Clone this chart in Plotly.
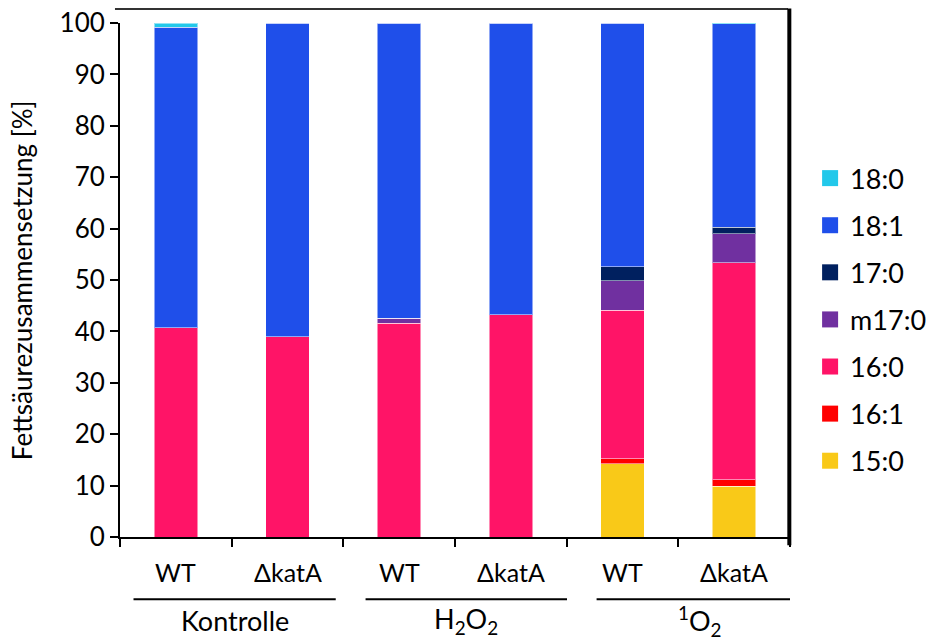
import plotly.graph_objects as go

# ---- data ----
bar_labels = ["WT", "ΔkatA", "WT", "ΔkatA", "WT", "ΔkatA"]
group_labels = ["Kontrolle", "H<sub>2</sub>O<sub>2</sub>", "<sup>1</sup>O<sub>2</sub>"]
series_names = ["15:0", "16:1", "16:0", "m17:0", "17:0", "18:1", "18:0"]
s_15_0 = [0.0, 0.0, 0.0, 0.0, 14.3, 9.9]
s_16_1 = [0.0, 0.0, 0.0, 0.0, 0.9, 1.2]
s_16_0 = [40.7, 39.0, 41.6, 43.2, 28.9, 42.3]
s_m17_0 = [0.0, 0.0, 1.0, 0.0, 5.8, 5.6]
s_17_0 = [0.0, 0.0, 0.0, 0.0, 2.7, 1.3]
s_18_1 = [58.5, 61.0, 57.4, 56.8, 47.4, 39.6]
s_18_0 = [0.8, 0.0, 0.0, 0.0, 0.0, 0.4]
series_values = [s_15_0, s_16_1, s_16_0, s_m17_0, s_17_0, s_18_1, s_18_0]
series_colors = ["#F9C918", "#FF0000", "#FF1467", "#7030A0", "#00205F", "#1F4FEA", "#22C8EA"]
y_ticks = [0, 10, 20, 30, 40, 50, 60, 70, 80, 90, 100]

FONT = "Lato"
xpos = list(range(len(bar_labels)))

fig = go.Figure()
for name, vals, col in zip(series_names, series_values, series_colors):
    fig.add_trace(go.Bar(
        x=xpos, y=vals, name=name, width=0.39,
        marker=dict(color=col, line=dict(color="rgba(255,255,255,0.5)", width=1)),
        showlegend=False,
    ))
# legend entries (square markers), top to bottom: last stacked series first
for name, col in zip(series_names[::-1], series_colors[::-1]):
    fig.add_trace(go.Scatter(
        x=[None], y=[None], mode="markers", name=name, legendgroup=name,
        marker=dict(symbol="square", size=16, color=col),
    ))

fig.update_layout(
    barmode="stack",
    width=927, height=640,
    margin=dict(l=120, r=137, t=23, b=103, autoexpand=False),
    plot_bgcolor="white", paper_bgcolor="white",
    font=dict(family=FONT, size=26, color="black"),
    legend=dict(
        traceorder="grouped", tracegroupgap=9,
        x=1.030, xanchor="left", y=0.745, yanchor="top",
        font=dict(size=27), bgcolor="rgba(0,0,0,0)",
    ),
)
fig.update_xaxes(
    range=[-0.5, 5.5],
    tickvals=[i - 0.5 for i in range(len(bar_labels) + 1)],
    ticktext=["" for _ in range(len(bar_labels) + 1)],
    ticks="outside", ticklen=8, tickwidth=2, tickcolor="black",
    showline=True, linecolor="black", linewidth=2,
    showgrid=False, zeroline=False,
)
fig.update_yaxes(
    range=[0, 100], tickvals=y_ticks,
    ticks="outside", ticklen=8, tickwidth=2, tickcolor="black",
    showline=True, linecolor="black", linewidth=2,
    showgrid=False, zeroline=False,
    tickfont=dict(size=26),
)
# y-axis title
fig.add_annotation(x=-0.146, y=0.5, xref="paper", yref="paper",
                   text="Fettsäurezusammensetzung [%]", textangle=-90,
                   showarrow=False, font=dict(size=26), xanchor="center", yanchor="middle")

# bar labels
for i, lab in enumerate(bar_labels):
    fig.add_annotation(x=i, y=-0.068, xref="x", yref="paper", text=lab,
                       showarrow=False, font=dict(size=25), yanchor="middle")
# group lines and labels
group_spans = [(-0.379, 1.432), (1.699, 3.503), (3.768, 5.616)]
for (x0, x1), g in zip(group_spans, group_labels):
    fig.add_shape(type="line", xref="x", yref="paper", x0=x0, x1=x1, y0=-0.121, y1=-0.121,
                  line=dict(color="black", width=2))
    fig.add_annotation(x=(x0 + x1) / 2, y=-0.163, xref="x", yref="paper", text=g,
                       showarrow=False, font=dict(size=27), yanchor="middle")
# frame: top line and right border
fig.add_shape(type="line", xref="paper", yref="paper", x0=-0.0075, x1=0.997, y0=1.027, y1=1.027,
              line=dict(color="#333333", width=2))
fig.add_shape(type="line", xref="paper", yref="paper", x0=0.999, x1=0.999, y0=1.028, y1=-0.016,
              line=dict(color="black", width=4))

fig.write_html("out.html")
